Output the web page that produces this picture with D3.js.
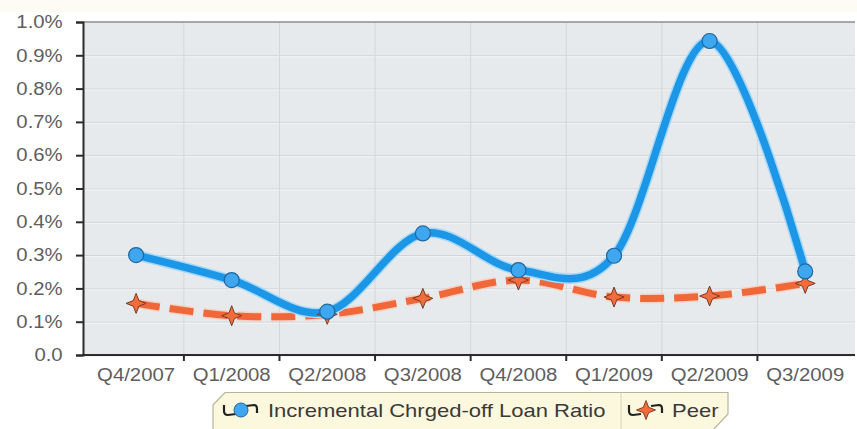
<!DOCTYPE html>
<meta charset="utf-8">
<script src="https://d3js.org/d3.v7.min.js"></script>
<style>
  body { margin: 0; background: #fff; }
  text { font-family: "Liberation Sans", Arial, sans-serif; }
</style>
<div id="my_dataviz"></div>
<script>

// data (percent values)
var quarters = ["Q4/2007", "Q1/2008", "Q2/2008", "Q3/2008", "Q4/2008", "Q1/2009", "Q2/2009", "Q3/2009"];
var loanRatio = [0.30, 0.225, 0.13, 0.365, 0.255, 0.298, 0.943, 0.251];
var peer = [0.155, 0.118, 0.122, 0.17, 0.225, 0.174, 0.177, 0.215];
var yTicks = [0, 0.1, 0.2, 0.3, 0.4, 0.5, 0.6, 0.7, 0.8, 0.9, 1.0];
var seriesNames = ["Incremental Chrged-off Loan Ratio", "Peer"];

var width = 857, height = 429;
var plot = {left: 83, right: 855, top: 22, bottom: 355};

var svg = d3.select("#my_dataviz")
  .append("svg")
    .attr("width", width)
    .attr("height", height);

// faint cream band at the very top
svg.append("rect").attr("x", 0).attr("y", 0).attr("width", width).attr("height", 12).attr("fill", "#fdfbf4");

var x = d3.scaleBand().domain(quarters).range([88.3, 853]).paddingInner(0).paddingOuter(0);
var y = d3.scaleLinear().domain([0, 1.0]).range([plot.bottom, plot.top]);
var cx = function(d) { return x(d) + x.bandwidth() / 2; };

// plot background
svg.append("rect")
  .attr("x", plot.left).attr("y", plot.top)
  .attr("width", plot.right - plot.left).attr("height", plot.bottom - plot.top)
  .attr("fill", "#e7eaed");

// horizontal grid
svg.append("g").selectAll("line")
  .data(yTicks.slice(1, -1))
  .enter().append("line")
    .attr("x1", plot.left).attr("x2", plot.right)
    .attr("y1", function(d) { return y(d) + 0.5; }).attr("y2", function(d) { return y(d) + 0.5; })
    .attr("stroke", "#cfd3d7").attr("stroke-width", 1);
svg.append("g").selectAll("line")
  .data(yTicks.slice(0, -1))
  .enter().append("line")
    .attr("x1", plot.left).attr("x2", plot.right)
    .attr("y1", function(d) { return y(d) + 1.5; }).attr("y2", function(d) { return y(d) + 1.5; })
    .attr("stroke", "#f2f4f6").attr("stroke-width", 1);

// vertical grid at band boundaries
svg.append("g").selectAll("line")
  .data(quarters.slice(1))
  .enter().append("line")
    .attr("x1", function(d) { return x(d); }).attr("x2", function(d) { return x(d); })
    .attr("y1", plot.top).attr("y2", plot.bottom)
    .attr("stroke", "#d3d6da").attr("stroke-width", 1);

// top border
svg.append("line")
  .attr("x1", plot.left).attr("x2", plot.right)
  .attr("y1", plot.top).attr("y2", plot.top)
  .attr("stroke", "#8a8d90").attr("stroke-width", 1.5);

// y axis
var yAxis = svg.append("g")
  .attr("transform", "translate(" + plot.left + ",0)")
  .call(d3.axisLeft(y).tickValues(yTicks).tickSize(7).tickPadding(11)
    .tickFormat(function(d) { return d === 0 ? "0.0" : d.toFixed(1) + "%"; }));
yAxis.select(".domain").attr("stroke", "#2b2b2b").attr("stroke-width", 2);
yAxis.selectAll(".tick line").attr("stroke", "#2b2b2b").attr("stroke-width", 2);
yAxis.selectAll("text")
  .attr("font-size", 18).attr("fill", "#5e5e5e")
  .attr("transform", "scale(1.13,1)");

// x axis
var xAxis = svg.append("g")
  .attr("transform", "translate(0," + plot.bottom + ")")
  .call(d3.axisBottom(x).tickSize(0).tickPadding(13));
xAxis.select(".domain").remove();
xAxis.selectAll("text")
  .attr("font-size", 18).attr("fill", "#5e5e5e")
  .attr("transform", "scale(1.13,1)");
svg.append("line")
  .attr("x1", plot.left - 1).attr("x2", plot.right)
  .attr("y1", plot.bottom).attr("y2", plot.bottom)
  .attr("stroke", "#2b2b2b").attr("stroke-width", 2);
svg.append("g").selectAll("line")
  .data(quarters.slice(1))
  .enter().append("line")
    .attr("x1", function(d) { return x(d); }).attr("x2", function(d) { return x(d); })
    .attr("y1", plot.bottom).attr("y2", plot.bottom + 6)
    .attr("stroke", "#2b2b2b").attr("stroke-width", 2);

var line = d3.line()
  .x(function(d, i) { return cx(quarters[i]); })
  .y(function(d) { return y(d); })
  .curve(d3.curveCatmullRom.alpha(0));

// peer series (dashed orange)
svg.append("path").datum(peer)
  .attr("d", line).attr("fill", "none")
  .attr("stroke", "#f8c9b4").attr("stroke-width", 10)
  .attr("stroke-dasharray", "24,10").attr("opacity", 0.7);
svg.append("path").datum(peer)
  .attr("d", line).attr("fill", "none")
  .attr("stroke", "#f0683a").attr("stroke-width", 7)
  .attr("stroke-dasharray", "24,10");

// loan ratio series (blue)
svg.append("path").datum(loanRatio)
  .attr("d", line).attr("fill", "none")
  .attr("stroke", "#a8d8f6").attr("stroke-width", 10.5);
svg.append("path").datum(loanRatio)
  .attr("d", line).attr("fill", "none")
  .attr("stroke", "#1c97e8").attr("stroke-width", 7.5);

var star = "M0,-10 L2.8,-2.8 L10,0 L2.8,2.8 L0,10 L-2.8,2.8 L-10,0 L-2.8,-2.8 Z";

svg.append("g").selectAll("path")
  .data(peer)
  .enter().append("path")
    .attr("d", star)
    .attr("transform", function(d, i) { return "translate(" + cx(quarters[i]) + "," + y(d) + ")"; })
    .attr("fill", "#f36c3c").attr("stroke", "#7a3b26").attr("stroke-width", 1);

svg.append("g").selectAll("circle")
  .data(loanRatio)
  .enter().append("circle")
    .attr("cx", function(d, i) { return cx(quarters[i]); })
    .attr("cy", function(d) { return y(d); })
    .attr("r", 7.5)
    .attr("fill", "#3ea7ef").attr("stroke", "#23679e").attr("stroke-width", 1.2);

// legend
var lg = svg.append("g");
lg.append("path")
  .attr("d", "M213,405 L225,392.5 L728,392.5 L728,414 L713,430 L213,430 Z")
  .attr("fill", "#fbf8dd").attr("stroke", "#b8b59c").attr("stroke-width", 1.2);
lg.append("line").attr("x1", 621).attr("x2", 621).attr("y1", 393).attr("y2", 430)
  .attr("stroke", "#d8d4b8").attr("stroke-width", 1);

var icon = "M-17,-5 L-17,1 Q-17,5 -13,5 L-5,4 M5,-4 L13,-5 Q16,-5 16,-1 L16,3";
var legendItems = [
  {name: seriesNames[0], ix: 241, tx: 268, marker: "circle"},
  {name: seriesNames[1], ix: 646, tx: 672, marker: "star"}
];
legendItems.forEach(function(it) {
  var g = lg.append("g").attr("transform", "translate(" + it.ix + ",410)");
  g.append("path").attr("d", icon).attr("fill", "none")
    .attr("stroke", "#222").attr("stroke-width", 2.2);
  if (it.marker === "circle") {
    g.append("circle").attr("r", 7).attr("fill", "#3ea7ef").attr("stroke", "#23679e").attr("stroke-width", 1);
  } else {
    g.append("path").attr("d", star).attr("transform", "scale(0.95)")
      .attr("fill", "#f36c3c").attr("stroke", "#7a3b26").attr("stroke-width", 1);
  }
  lg.append("text")
    .attr("x", it.tx / 1.16).attr("y", 417)
    .attr("transform", "scale(1.16,1)")
    .attr("font-size", 19).attr("fill", "#3a3a3a")
    .text(it.name);
});

</script>
